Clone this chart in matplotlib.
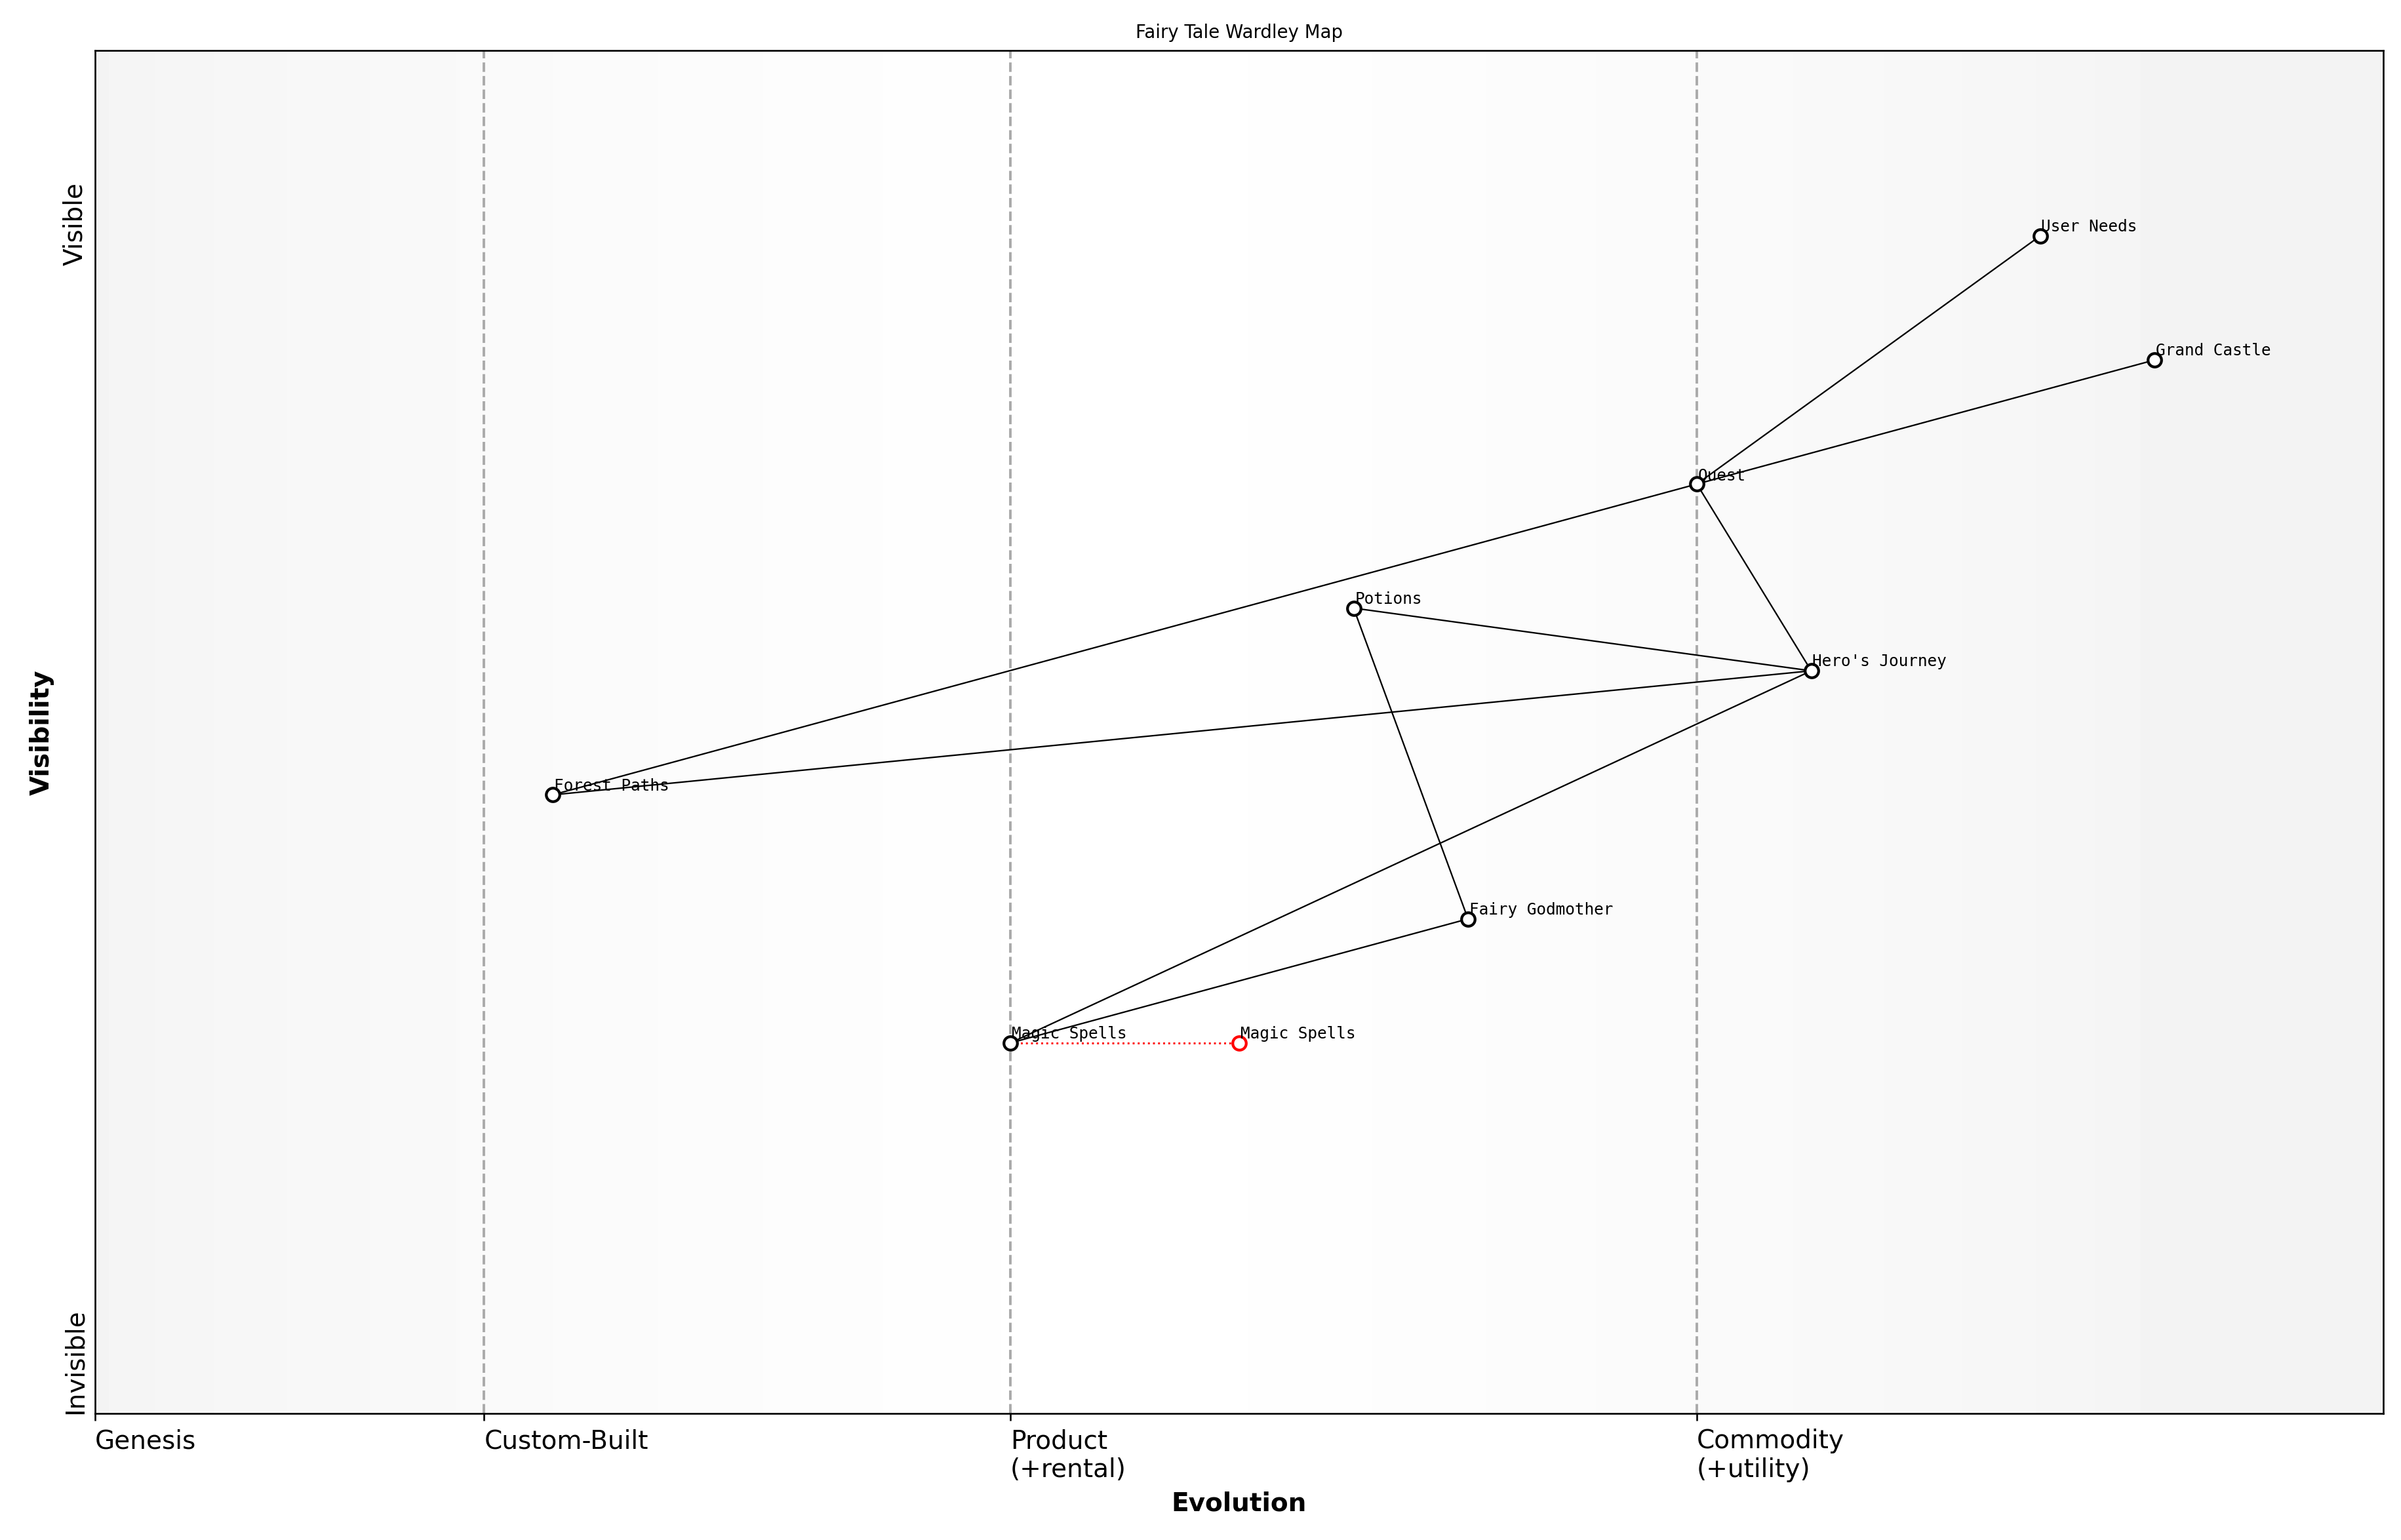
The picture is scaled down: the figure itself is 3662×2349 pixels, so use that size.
import numpy as np
import matplotlib.pyplot as plt

names = ['User Needs', 'Grand Castle', 'Quest', 'Potions', "Hero's Journey",
         'Forest Paths', 'Fairy Godmother', 'Magic Spells']
xs = [0.85, 0.90, 0.70, 0.55, 0.75, 0.20, 0.60, 0.40]
ys = [0.864, 0.773, 0.682, 0.591, 0.545, 0.454, 0.363, 0.272]
links = [('User Needs', 'Quest'), ('Grand Castle', 'Quest'), ('Quest', 'Forest Paths'),
         ('Quest', "Hero's Journey"), ('Potions', "Hero's Journey"),
         ('Potions', 'Fairy Godmother'), ("Hero's Journey", 'Forest Paths'),
         ("Hero's Journey", 'Magic Spells'), ('Magic Spells', 'Fairy Godmother')]
evolve_name = 'Magic Spells'
evolve_x = 0.50

stages = [0, 0.17, 0.40, 0.70]
stage_labels = ['Genesis', 'Custom-Built', 'Product\n(+rental)', 'Commodity\n(+utility)']

fig = plt.figure(figsize=(15.65, 10.04), dpi=234)
ax = fig.add_axes([0.0396, 0.082, 0.953, 0.885])

# light gray at the edges, white in the middle
g = np.linspace(0, 1, 500)
shade = 0.955 + 0.045 * np.clip(1 - np.abs(g - 0.45) / 0.45, 0, 1) ** 0.7
ax.imshow(np.tile(shade, (10, 1)), extent=[0, 1, 0, 1], aspect='auto',
          cmap='gray', vmin=0, vmax=1, zorder=0)

for s in stages[1:]:
    ax.axvline(s, color='#aaaaaa', ls='--', lw=1.2, zorder=1)

pos = dict(zip(names, zip(xs, ys)))
for a, b in links:
    ax.plot([pos[a][0], pos[b][0]], [pos[a][1], pos[b][1]], color='black', lw=0.7, zorder=2)

ex, ey = pos[evolve_name]
ax.plot([ex, evolve_x], [ey, ey], color='red', ls=':', lw=0.9, zorder=2)
ax.scatter(xs, ys, s=40, facecolor='white', edgecolor='black', lw=1.3, zorder=3)
ax.scatter([evolve_x], [ey], s=40, facecolor='white', edgecolor='red', lw=1.3, zorder=3)
for n, x, y in zip(names, xs, ys):
    ax.text(x + 0.0005, y + 0.001, n, family='monospace', fontsize=7.5, va='bottom')
ax.text(evolve_x + 0.0005, ey + 0.001, evolve_name, family='monospace', fontsize=7.5, va='bottom')

ax.set_xlim(0, 1)
ax.set_ylim(0, 1)
ax.set_xticks(stages)
ax.set_xticklabels(stage_labels, ha='left', fontsize=12)
ax.set_yticks([0, 0.873])
labs = ax.set_yticklabels(['Invisible', 'Visible'], rotation=90, fontsize=12)
labs[0].set_va('bottom')
labs[1].set_va('center')
ax.tick_params(axis='y', length=0)
ax.set_xlabel('Evolution', fontsize=12, fontweight='bold')
ax.set_ylabel('Visibility', fontsize=12, fontweight='bold')
ax.set_title('Fairy Tale Wardley Map', fontsize=8.5)

fig.savefig('out.png', dpi=234)
